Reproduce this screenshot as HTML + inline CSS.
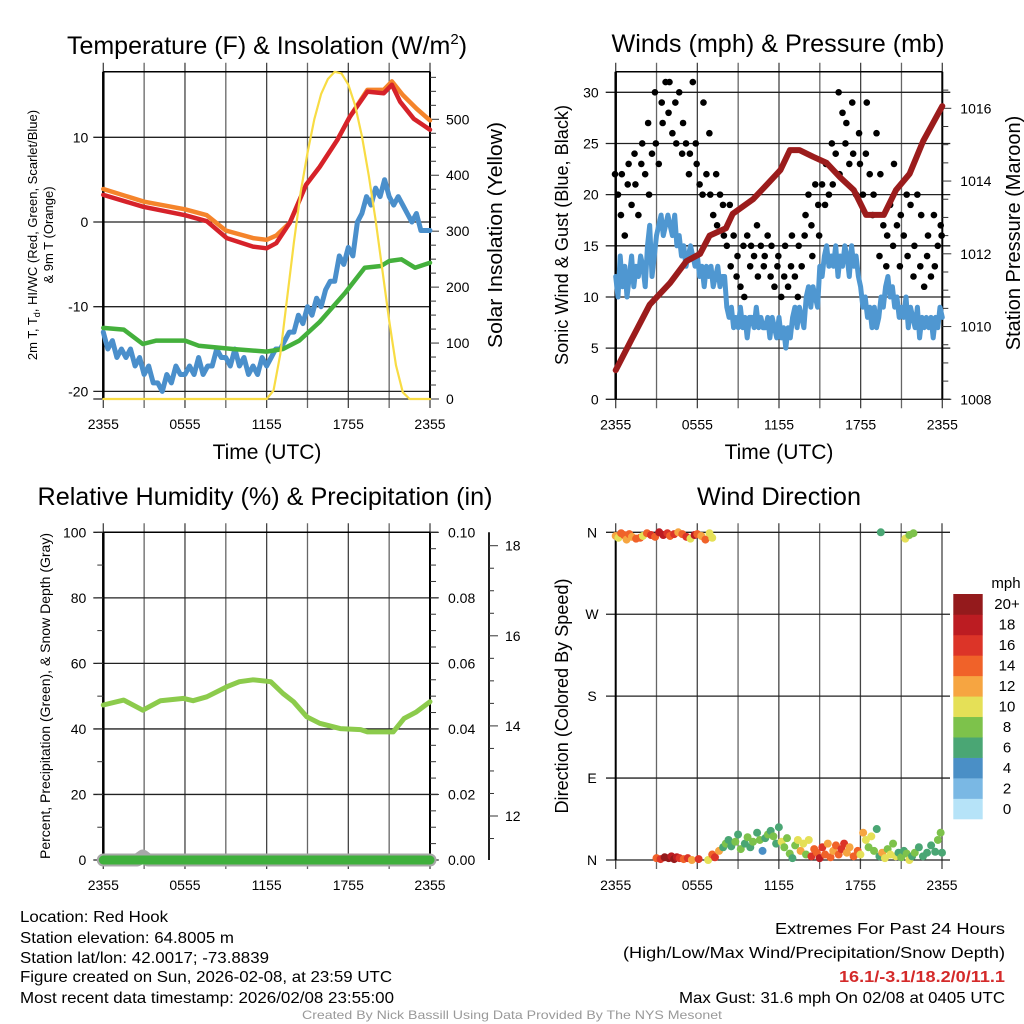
<!DOCTYPE html>
<html><head><meta charset="utf-8"><style>
html,body{margin:0;padding:0;background:#fff;}
svg{display:block;font-family:"Liberation Sans",Arial,sans-serif;}
</style></head><body>
<svg id="fig" width="1024" height="1024" viewBox="0 0 1024 1024" xmlns="http://www.w3.org/2000/svg">
<rect width="1024" height="1024" fill="#fff"/>
<g id="layer"></g>
<text x="267" y="54" font-size="25" text-anchor="middle">Temperature (F) &amp; Insolation (W/m<tspan dy="-10" font-size="15">2</tspan><tspan dy="10">)</tspan></text>
<text x="778" y="52" font-size="25" text-anchor="middle" textLength="333" lengthAdjust="spacingAndGlyphs">Winds (mph) &amp; Pressure (mb)</text>
<text x="265" y="505" font-size="25" text-anchor="middle" textLength="455" lengthAdjust="spacingAndGlyphs">Relative Humidity (%) &amp; Precipitation (in)</text>
<text x="779" y="505" font-size="25" text-anchor="middle" textLength="164" lengthAdjust="spacingAndGlyphs">Wind Direction</text>
<text x="267" y="459" font-size="21" text-anchor="middle">Time (UTC)</text>
<text x="779" y="459" font-size="21" text-anchor="middle">Time (UTC)</text>
<text transform="translate(37,235) rotate(-90)" font-size="13" text-anchor="middle">2m T, T<tspan font-size="9" dy="3">d</tspan><tspan dy="-3">, HI/WC (Red, Green, Scarlet/Blue)</tspan></text>
<text transform="translate(53,235) rotate(-90)" font-size="13" text-anchor="middle">&amp; 9m T (Orange)</text>
<text transform="translate(502,235) rotate(-90)" font-size="20" text-anchor="middle" textLength="226" lengthAdjust="spacingAndGlyphs">Solar Insolation (Yellow)</text>
<text transform="translate(568,235) rotate(-90)" font-size="18" text-anchor="middle" textLength="260" lengthAdjust="spacingAndGlyphs">Sonic Wind &amp; Gust (Blue, Black)</text>
<text transform="translate(1020,233) rotate(-90)" font-size="20" text-anchor="middle">Station Pressure (Maroon)</text>
<text transform="translate(50,696) rotate(-90)" font-size="13.5" text-anchor="middle" textLength="326" lengthAdjust="spacingAndGlyphs">Percent, Precipitation (Green), &amp; Snow Depth (Gray)</text>
<text transform="translate(568,696) rotate(-90)" font-size="18" text-anchor="middle" textLength="235" lengthAdjust="spacingAndGlyphs">Direction (Colored By Speed)</text>
<g font-size="16">
<text x="20" y="922" textLength="148" lengthAdjust="spacingAndGlyphs">Location: Red Hook</text>
<text x="20" y="943" textLength="214" lengthAdjust="spacingAndGlyphs">Station elevation: 64.8005 m</text>
<text x="20" y="963" textLength="249" lengthAdjust="spacingAndGlyphs">Station lat/lon: 42.0017; -73.8839</text>
<text x="20" y="982" textLength="372" lengthAdjust="spacingAndGlyphs">Figure created on Sun, 2026-02-08, at 23:59 UTC</text>
<text x="20" y="1003" textLength="374" lengthAdjust="spacingAndGlyphs">Most recent data timestamp: 2026/02/08 23:55:00</text>
</g>
<g font-size="16" text-anchor="end">
<text x="1005" y="934" textLength="230" lengthAdjust="spacingAndGlyphs">Extremes For Past 24 Hours</text>
<text x="1005" y="958" textLength="382" lengthAdjust="spacingAndGlyphs">(High/Low/Max Wind/Precipitation/Snow Depth)</text>
<text x="1005" y="982" fill="#d42a2a" font-weight="bold" textLength="166" lengthAdjust="spacingAndGlyphs">16.1/-3.1/18.2/0/11.1</text>
<text x="1005" y="1003" textLength="326" lengthAdjust="spacingAndGlyphs">Max Gust: 31.6 mph On 02/08 at 0405 UTC</text>
</g>
<text x="512" y="1019" font-size="12" fill="#999" text-anchor="middle" textLength="420" lengthAdjust="spacingAndGlyphs">Created By Nick Bassill Using Data Provided By The NYS Mesonet</text>
<text x="1006" y="588" font-size="15" text-anchor="middle">mph</text>
</svg>
<script>
// ---------- DATA ----------
const timeTickLabels = ["2355","0555","1155","1755","2355"];
const tempTickLabels = [10,0,-10,-20];
const insolTickLabels = [0,100,200,300,400,500];
const windTickLabels = [0,5,10,15,20,25,30];
const pressTickLabels = [1008,1010,1012,1014,1016];
const rhTickLabels = [0,20,40,60,80,100];
const precipTickLabels = ["0.00","0.02","0.04","0.06","0.08","0.10"];
const snowTickLabels = [12,14,16,18];
const dirTickLabels = ["N","E","S","W","N"];
const speedBinLabels = ["0","2","4","6","8","10","12","14","16","18","20+"];

const tempHours = [0,2.94,6,7.6,9.07,11,12,12.7,13.7,14.9,15.9,17.2,18.1,19.4,20.6,21.2,21.8,22.8,24];
const tempValues = [3.2,1.8,0.8,0.1,-1.9,-2.9,-3.1,-2.5,-0.1,4.4,6.5,9.7,12.4,15.4,15.2,16.2,14.2,12.2,10.9];
const temp9Hours = [0,3,6,7.6,9,11,12,12.7,13.7,14.9,15.9,17.2,18.1,19.4,20.6,21.2,22,23,24];
const temp9Values = [3.9,2.4,1.5,0.8,-1,-1.9,-2.1,-1.6,-0.1,4.4,6.5,9.7,12.4,15.6,15.6,16.6,15,13.4,12];
const dewHours = [0,1.5,2.9,3.9,6,7,9.5,12,13.2,14.4,15.9,17.8,19.2,20.4,21,21.9,22.9,24];
const dewValues = [-12.5,-12.7,-14.4,-14,-14,-14.6,-15,-15.3,-15,-14,-11.8,-8.3,-5.4,-5.2,-4.6,-4.4,-5.4,-4.8];
const windChill = [-13,-15,-14,-16,-15,-16,-15,-17,-16,-18,-17,-19,-19,-20,-18,-19,-17,-18,-18,-17,-18,-16,-18,-17,-17,-15,-16,-16,-17,-15,-17,-16,-18,-17,-18,-16,-17,-16,-15,-15,-14,-13,-13,-11,-12,-10,-11,-9,-10,-8,-7,-7,-4,-5,-3,-4,0,1,3,2,4,3,5,3,2,3,2,1,0,1,-1,-1,-1];
const insolHours = [0,12,12.5,13,13.5,14,14.5,15,15.5,16,16.5,17,17.5,18,18.5,19,19.5,20,20.5,21,21.5,22,22.5,24];
const insolValues = [0,0,15,80,180,280,370,440,500,545,572,585,582,562,525,470,400,320,230,140,60,12,0,0];

const pressHours = [0,1.1,2.5,4,5.2,6.2,6.9,8.1,8.6,10.1,11.1,12.1,12.8,13.5,14.5,15.5,16.5,17.5,18.4,19.7,20.6,21.6,22.6,24];
const pressValues = [1008.8,1009.6,1010.6,1011.2,1011.8,1012.0,1012.5,1012.7,1013.1,1013.5,1013.9,1014.3,1014.85,1014.85,1014.67,1014.5,1014.1,1013.75,1013.07,1013.07,1013.75,1014.2,1015.1,1016.06];
const windSpeed = [12,10,14,11,13,10,12,14,11,13,12,14,13,11,15,17,12,14,16,17,18,16,17,18,17,16,18,15,16,14,15,13,14,15,14,13,14,12,13,11,13,12,13,11,12,13,11,12,12,9,8,9,7,8,7,9,7,8,6,8,8,7,9,7,8,7,7,8,6,8,7,6,8,6,7,5,7,6,8,9,7,9,8,7,10,11,9,11,10,9,13,12,14,15,13,14,13,15,12,14,13,15,14,12,15,13,14,12,11,9,10,8,9,7,9,7,8,10,9,11,12,10,11,9,10,8,9,8,10,7,9,8,7,9,6,8,7,8,7,8,6,8,7,9,8];
const windGust = [22,20,18,22,16,21,23,19,24,21,18,23,25,22,27,20,24,30,25,23,29,27,31,28,31,26,29,25,30,24,27,25,22,24,31,25,23,21,20,29,22,26,20,18,22,17,20,19,16,15,19,13,16,12,14,11,15,10,16,13,15,14,17,12,15,13,14,16,12,15,11,13,14,10,12,15,11,13,16,12,10,15,13,16,18,20,17,14,21,19,16,21,19,23,20,25,21,24,30,22,28,25,27,23,29,24,20,26,23,20,24,29,22,18,20,26,14,22,17,13,16,19,15,23,17,13,18,16,20,14,19,12,15,20,13,18,11,14,16,12,18,13,15,17,16];

const rhHours = [0,1.5,2.9,4.2,5.9,6.6,7.6,9.1,10,11,12.3,13.2,13.97,14.95,15.9,17.4,18.9,19.4,20.6,21.3,22.1,23,24];
const rhValues = [47.3,48.8,45.7,48.6,49.3,48.6,49.8,52.9,54.4,55,54.4,50.8,48.3,43.7,41.7,40.1,39.8,39.1,39.1,39.1,43.2,45.2,48.3];
const precipHours = [0,24];
const precipValues = [0,0];
const snowHours = [0,2.5,2.9,3.3,24];
const snowValues = [11.1,11.1,11.2,11.1,11.1];

const dirHours = [0,0.2,0.4,0.6,0.8,1.0,1.2,1.5,1.8,2.0,2.3,2.6,2.9,3.2,3.5,3.8,4.0,4.3,4.6,4.9,5.2,5.5,5.8,6.0,6.3,6.6,6.9,7.1,19.5,21.3,21.6,21.9,
3.0,3.3,3.6,3.9,4.1,4.3,4.5,4.7,5.0,5.3,5.6,6.1,6.8,7.1,7.3,7.6,7.9,8.1,8.3,8.5,8.8,9.0,9.2,9.5,9.7,9.9,10.1,10.4,10.6,10.8,11.0,11.2,11.4,11.6,11.8,12.0,12.2,12.4,12.6,12.8,13.0,13.2,13.4,13.6,13.8,14.0,14.2,14.4,14.6,14.8,15.0,15.2,15.4,15.6,15.8,16.0,16.2,16.4,16.6,16.8,17.0,17.2,17.5,17.8,18.0,18.2,18.4,18.6,18.8,19.0,19.2,19.4,19.6,19.8,20.0,20.2,20.4,20.6,20.8,21.0,21.2,21.4,21.6,21.8,22.0,22.3,22.6,22.9,23.2,23.5,23.7,23.9,24.0];
const dirValues = [356,354,359,357,352,358,355,353,354,356,359,357,355,360,357,359,356,358,360,358,355,353,357,358,356,352,359,354,360,353,357,359,
2,1,3,2,4,1,3,2,1,2,0,1,0,6,3,10,14,18,22,15,20,28,12,18,25,14,20,30,22,10,24,28,32,26,18,36,20,14,24,7,2,16,22,10,18,6,22,4,12,8,2,14,6,18,3,10,16,6,12,18,8,14,4,10,6,30,22,14,26,10,34,4,8,2,12,6,18,4,8,3,10,7,0,4,8,14,4,8,16,9,22,30,8];
const dirSpeeds = [12,10,14,15,13,14,12,15,14,11,14,16,15,18,19,17,14,16,12,15,16,11,18,14,13,15,10,11,6,10,8,9,
15,16,20,20,19,21,18,16,15,17,12,16,10,14,16,13,7,8,6,7,8,6,8,7,8,6,8,7,8,4,7,8,6,8,7,6,10,9,8,9,6,8,10,12,10,9,11,17,15,14,19,16,14,13,15,12,14,15,16,17,13,12,15,14,10,12,10,9,10,8,6,6,13,10,8,10,8,11,7,9,6,9,10,7,8,6,7,6,6,7,8,8,6];
const speedColors = ["#b6e3f8","#7ab8e4","#4a8fc6","#4aa674","#7dc24b","#e5e057","#f6a541","#f06229","#dc3428","#bc1c22","#941a1c"];

// ---------- HELPERS ----------
const NS = "http://www.w3.org/2000/svg";
const layer = document.getElementById("layer");
function mk(tag, attrs, name, parent) {
  const el = document.createElementNS(NS, tag);
  for (const k in attrs) el.setAttribute(k, attrs[k]);
  
  
  (parent || layer).appendChild(el);
  return el;
}
function txt(x, y, s, size, anchor, name) {
  const t = mk("text", {x: x, y: y, "font-size": size, "text-anchor": anchor || "middle"}, name);
  t.textContent = s;
  return t;
}
function scale(d0, d1, r0, r1) { return v => r0 + (v - d0) / (d1 - d0) * (r1 - r0); }
function path(xs, ys, fx, fy, color, w, name) {
  let d = "";
  for (let i = 0; i < xs.length; i++) d += (i ? "L" : "M") + fx(xs[i]).toFixed(1) + "," + fy(ys[i]).toFixed(1);
  return mk("path", {d: d, fill: "none", stroke: color, "stroke-width": w, "stroke-linejoin": "round", "stroke-linecap": "round"}, name);
}
function evenHours(n) { const a = []; for (let i = 0; i < n; i++) a.push(i * 24 / (n - 1)); return a; }

function panelGrid(L, R, T, B, hLinesY, name, opts) {
  const g = mk("g", {}, name + "-grid");
  for (let i = 0; i <= 8; i++) {
    const x = L + (R - L) * i / 8;
    mk("line", {x1: x, x2: x, y1: T - 9, y2: B + 9, stroke: i % 2 ? "#666" : "#444", "stroke-width": 1.3}, name + "-vgrid", g);
  }
  hLinesY.forEach(y => mk("line", {x1: L - 10, x2: R + (opts && opts.rext || 0), y1: y, y2: y, stroke: "#222", "stroke-width": 1.3}, name + "-hgrid", g));
  mk("line", {x1: L, x2: R, y1: T, y2: T, stroke: "#000", "stroke-width": 1.5}, name + "-top-frame", g);
  mk("line", {x1: L, x2: L, y1: T, y2: B, stroke: "#000", "stroke-width": 2.5}, name + "-left-spine", g);
  mk("line", {x1: R, x2: R, y1: T, y2: B, stroke: "#000", "stroke-width": 2}, name + "-right-spine", g);
  timeTickLabels.forEach((s, i) => txt(L + (R - L) * i / 4, B + 30, s, 14, "middle", name + "-x-tick-label"));
}

// ---------- PANEL 1: TEMPERATURE ----------
{
  const L = 103.3, R = 430, T = 71.7, B = 399;
  const X = scale(0, 24, L, R);
  const Y = scale(0, 10, 222, 137.3);
  const YI = scale(0, 500, 399, 119.3);
  panelGrid(L, R, T, B, tempTickLabels.map(Y).concat([B]), "temp-panel");
  tempTickLabels.forEach(v => txt(L - 15, Y(v) + 5, String(v), 14, "end", "temp-y-tick-label"));
  for (let v = 0; v <= 580; v += 25) {
    const major = v % 100 === 0;
    mk("line", {x1: R, x2: R + (major ? 9 : 6), y1: YI(v), y2: YI(v), stroke: "#333", "stroke-width": 1}, "insol-tick");
  }
  insolTickLabels.forEach(v => txt(R + 16, YI(v) + 5, String(v), 14, "start", "insol-y-tick-label"));
  path(evenHours(windChill.length), windChill, X, Y, "#4a8fcb", 5, "windchill-line");
  path(dewHours, dewValues, X, Y, "#44b03c", 4.5, "dewpoint-line");
  path(temp9Hours, temp9Values, X, Y, "#f5842b", 4.5, "temp-9m-line");
  path(tempHours, tempValues, X, Y, "#d6222a", 4.5, "temp-2m-line");
  path(insolHours, insolValues, X, YI, "#f8dc44", 2.2, "insolation-line");
}

// ---------- PANEL 2: WINDS ----------
{
  const L = 615.7, R = 942.3, T = 71.7, B = 399.3;
  const X = scale(0, 24, L, R);
  const Y = scale(0, 30, 399.3, 92.3);
  const YP = scale(1008, 1016, 399.3, 108.3);
  panelGrid(L, R, T, B, windTickLabels.map(Y), "winds-panel", {rext: 8});
  windTickLabels.forEach(v => txt(L - 17, Y(v) + 5, String(v), 14, "end", "wind-y-tick-label"));
  for (let v = 1008; v <= 1016.6; v += 0.5) {
    const major = Math.abs(v % 2) < 0.01;
    mk("line", {x1: R, x2: R + (major ? 9 : 6), y1: YP(v), y2: YP(v), stroke: "#333", "stroke-width": 1}, "pressure-tick");
  }
  pressTickLabels.forEach(v => txt(R + 18, YP(v) + 5, String(v), 14, "start", "pressure-y-tick-label"));
  path(evenHours(windSpeed.length), windSpeed, X, Y, "#4f97d1", 5, "wind-speed-line");
  const gh = evenHours(windGust.length);
  windGust.forEach((v, i) => {
    const jitter = (i % 3 - 1) * 0.05;
    mk("circle", {cx: X(gh[i] + jitter), cy: Y(v), r: 3.3, fill: "#000"}, "gust-point");
  });
  path(pressHours, pressValues, X, YP, "#9b1c1c", 6, "pressure-line");
}

// ---------- PANEL 3: HUMIDITY ----------
{
  const L = 103.3, R = 430, T = 532.3, B = 860;
  const X = scale(0, 24, L, R);
  const Y = scale(0, 100, 860, 532.3);
  const YS = scale(12, 18, 816, 545.7);
  panelGrid(L, R, T, B, rhTickLabels.map(Y), "rh-panel", {rext: 8});
  rhTickLabels.forEach(v => txt(L - 17, Y(v) + 5, String(v), 14, "end", "rh-y-tick-label"));
  for (let v = 0; v <= 100; v += 5) mk("line", {x1: R, x2: R + (v % 20 === 0 ? 9 : 6), y1: Y(v), y2: Y(v), stroke: "#333"}, "precip-tick");
  for (let v = 0; v <= 100; v += 10) mk("line", {x1: L - 6, x2: L, y1: Y(v), y2: Y(v), stroke: "#333"}, "rh-minor-tick");
  precipTickLabels.forEach((s, i) => txt(R + 18, Y(i * 20) + 5, s, 14, "start", "precip-y-tick-label"));
  mk("line", {x1: 489, x2: 489, y1: 532.3, y2: 860, stroke: "#222", "stroke-width": 2}, "snow-axis-spine");
  for (let v = 11.5; v <= 18.2; v += 0.5) mk("line", {x1: 489, x2: 489 + (Math.abs(v % 2) < 0.01 ? 9 : 5), y1: YS(v), y2: YS(v), stroke: "#333"}, "snow-tick");
  snowTickLabels.forEach(v => txt(505, YS(v) + 5, String(v), 14, "start", "snow-y-tick-label"));
  const ySnow = v => Math.min(860, YS(v) + 4);
  path(snowHours, snowValues, X, ySnow, "#a8a8a8", 13, "snow-depth-line");
  path(precipHours, precipValues, X, Y, "#3fb03c", 9, "precip-line");
  path(rhHours, rhValues, X, Y, "#8ccb4c", 5, "rh-line");
}

// ---------- PANEL 4: WIND DIRECTION ----------
{
  const L = 615.7, R = 942, T = 532.3, B = 860;
  const X = scale(0, 24, L, R);
  const Y = scale(0, 360, 860, 532.3);
  const g = mk("g", {}, "direction-grid");
  for (let i = 0; i <= 8; i++) {
    const x = L + (R - L) * i / 8;
    mk("line", {x1: x, x2: x, y1: T - 9, y2: B + 9, stroke: i % 2 ? "#666" : "#444", "stroke-width": 1.3}, "direction-vgrid", g);
  }
  dirTickLabels.forEach((s, i) => {
    const y = Y(i * 90);
    mk("line", {x1: 606, x2: 950, y1: y, y2: y, stroke: "#222", "stroke-width": 1.3}, "direction-hgrid", g);
    txt(592, y + 5, s, 14, "middle", "direction-y-tick-label");
  });
  mk("line", {x1: L, x2: L, y1: T, y2: B, stroke: "#000", "stroke-width": 2}, "direction-left-spine", g);
  timeTickLabels.forEach((s, i) => txt(L + (R - L) * i / 4, B + 30, s, 14, "middle", "direction-x-tick-label"));
  dirValues.forEach((d, i) => {
    const bin = Math.min(10, Math.floor(dirSpeeds[i] / 2));
    mk("circle", {cx: X(dirHours[i]), cy: Y(d), r: 4, fill: speedColors[bin]}, "direction-point");
  });
  // colorbar
  const cbTop = 594, cbH = 225 / 11;
  speedBinLabels.forEach((s, i) => {
    const y = cbTop + (10 - i) * cbH;
    mk("rect", {x: 953.3, y: y, width: 29.4, height: cbH + 0.3, fill: speedColors[i]}, "colorbar-swatch");
    txt(1007, y + cbH / 2 + 5, s, 15, "middle", "colorbar-label");
  });
}
</script>
</body></html>
